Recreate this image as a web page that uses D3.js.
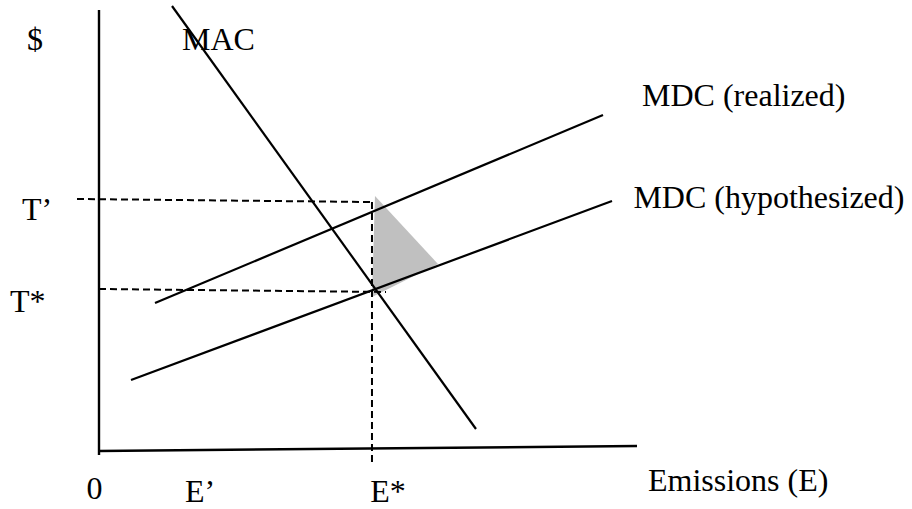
<!DOCTYPE html>
<html>
<head>
<meta charset="utf-8">
<script src="https://cdn.jsdelivr.net/npm/d3@7"></script>
<style>
  body { margin: 0; background: #fff; }
  text { font-family: "Liberation Serif", "Times New Roman", serif; font-size: 32px; fill: #000; }
</style>
</head>
<body>
<script>
// curves, in (emissions, $) units
var mac = [[1.357, 10.091], [7.007, 0.477]],
    mdcRealized = [[1.041, 3.341], [9.368, 7.614]],
    mdcHypo = [[0.595, 1.591], [9.535, 5.659]],
    tPrimeGuide = [[-0.409, 5.705], [5.074, 5.636]],
    tStarGuide = [[0, 3.659], [5.335, 3.591]],
    eStarGuide = [[5.074, 5.636], [5.074, -0.273]],
    lossArea = [[5.130, 5.773], [6.301, 4.227], [5.074, 3.477]],
    yAxisLine = [[0, 10], [0, -0.114]],
    xAxisLine = [[0, -0.023], [10, 0.091]];

var xTicks = ['0', 'E\u2019', 'E*'],
    xTickVals = [-0.083, 1.88, 5.37],
    yTicks = ['T\u2019', 'T*'],
    yTickVals = [5.5, 3.4];

var labels = ['$', 'MAC', 'MDC (realized)', 'MDC (hypothesized)', 'Emissions (E)'],
    labelAt = [[-1.338, 9.09], [1.543, 9.09], [10.093, 7.818], [9.933, 5.5], [10.204, -0.932]];

var width = 912,
    height = 509,
    x = d3.scaleLinear().domain([0, 10]).range([99, 637]),
    y = d3.scaleLinear().domain([0, 10]).range([450, 10]),
    svg;

var line = d3.line()
    .x(function (d) { return x(d[0]); })
    .y(function (d) { return y(d[1]); });

function init() {
    svg = d3.select('body')
        .append('svg')
        .attr('width', width)
        .attr('height', height);
}

function draw() {
    // shaded triangle
    svg.append('path')
        .attr('d', line(lossArea) + 'Z')
        .attr('fill', '#c0c0c0');

    // dashed guides
    svg.selectAll('path.guide')
        .data([tPrimeGuide, tStarGuide, eStarGuide])
        .enter()
        .append('path')
        .attr('class', 'guide')
        .attr('d', line)
        .attr('fill', 'none')
        .attr('stroke', '#000')
        .attr('stroke-width', 2)
        .attr('stroke-dasharray', '7,4');

    // axes
    svg.selectAll('path.axis')
        .data([yAxisLine, xAxisLine])
        .enter()
        .append('path')
        .attr('class', 'axis')
        .attr('d', line)
        .attr('fill', 'none')
        .attr('stroke', '#000')
        .attr('stroke-width', 2.4);

    // curves
    svg.selectAll('path.curve')
        .data([mac, mdcRealized, mdcHypo])
        .enter()
        .append('path')
        .attr('class', 'curve')
        .attr('d', line)
        .attr('fill', 'none')
        .attr('stroke', '#000')
        .attr('stroke-width', 2.2);

    // x tick labels
    svg.selectAll('text.xt')
        .data(xTicks)
        .enter()
        .append('text')
        .attr('class', 'xt')
        .attr('text-anchor', 'middle')
        .attr('x', function (d, i) { return x(xTickVals[i]); })
        .attr('y', function (d, i) { return i == 0 ? 499 : 502; })
        .text(function (d) { return d; });

    // y tick labels
    svg.selectAll('text.yt')
        .data(yTicks)
        .enter()
        .append('text')
        .attr('class', 'yt')
        .attr('x', function (d, i) { return i == 0 ? 22 : 10; })
        .attr('y', function (d, i) { return y(yTickVals[i]) + 12; })
        .text(function (d) { return d; });

    // other labels
    svg.selectAll('text.lab')
        .data(labels)
        .enter()
        .append('text')
        .attr('class', 'lab')
        .attr('x', function (d, i) { return x(labelAt[i][0]); })
        .attr('y', function (d, i) { return y(labelAt[i][1]); })
        .text(function (d) { return d; });
}

init();
draw();
</script>
</body>
</html>
